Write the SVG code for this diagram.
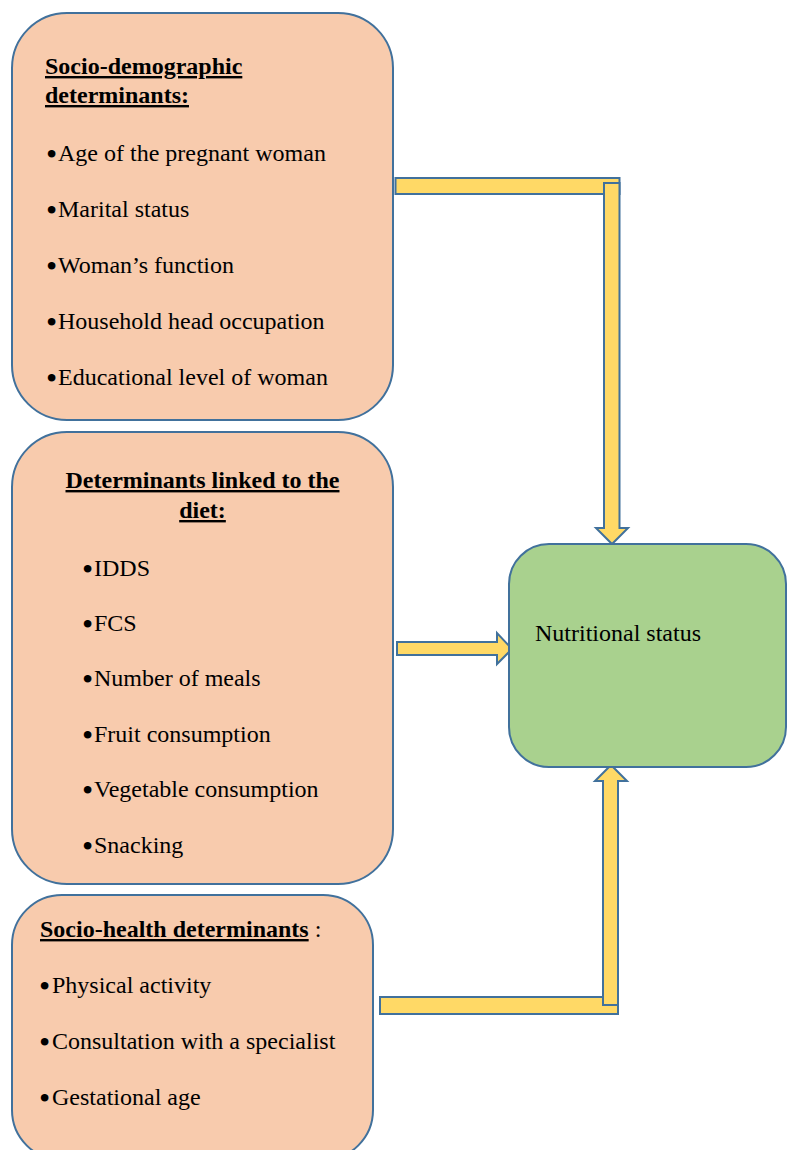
<svg xmlns="http://www.w3.org/2000/svg" width="787" height="1150" viewBox="0 0 787 1150">
  <style>
    .box { fill: #F8CBAD; stroke: #41719C; stroke-width: 2; }
    .goal { fill: #A9D18E; stroke: #41719C; stroke-width: 2; }
    .arr { fill: #FFD966; stroke: #41719C; stroke-width: 2; stroke-linejoin: miter; }
    text { font-family: "Liberation Serif", "Times New Roman", serif; font-size: 24px; fill: #000; }
    .h { font-weight: bold; text-decoration: underline; }
    .b { font-size: 32px; }
  </style>
  <rect width="787" height="1150" fill="#fff"/>

  <g id="connectors">
    <rect class="arr" x="395.5" y="178" width="224" height="16"/>
    <polygon class="arr" points="604,183 619.5,183 619.5,528 628,528 612,544 596,528 604,528"/>
    <polygon class="arr" points="397,642 497,642 497,633 512,649 497,664 497,655 397,655"/>
    <rect class="arr" x="380" y="997" width="238" height="17"/>
    <polygon class="arr" points="603,1005 618,1005 618,781 627,781 611,765 595,781 603,781"/>
  </g>

  <g id="socio-demographic">
    <rect class="box" x="12" y="13" width="381" height="407" rx="55" ry="55"/>
    <text class="h" x="45" y="74">Socio-demographic</text>
    <text class="h" x="45" y="103">determinants:</text>
    <text x="46" y="165"><tspan class="b">•</tspan><tspan x="58" y="161">Age of the pregnant woman</tspan></text>
    <text x="46" y="221"><tspan class="b">•</tspan><tspan x="58" y="217">Marital status</tspan></text>
    <text x="46" y="277"><tspan class="b">•</tspan><tspan x="58" y="273">Woman’s function</tspan></text>
    <text x="46" y="333"><tspan class="b">•</tspan><tspan x="58" y="329">Household head occupation</tspan></text>
    <text x="46" y="389"><tspan class="b">•</tspan><tspan x="58" y="385">Educational level of woman</tspan></text>
  </g>

  <g id="diet">
    <rect class="box" x="12" y="432" width="381" height="452" rx="55" ry="55"/>
    <text class="h" x="202.5" y="488" text-anchor="middle">Determinants linked to the</text>
    <text class="h" x="202.5" y="518" text-anchor="middle">diet:</text>
    <text x="82" y="580"><tspan class="b">•</tspan><tspan x="94" y="576">IDDS</tspan></text>
    <text x="82" y="635"><tspan class="b">•</tspan><tspan x="94" y="631">FCS</tspan></text>
    <text x="82" y="690"><tspan class="b">•</tspan><tspan x="94" y="686">Number of meals</tspan></text>
    <text x="82" y="746"><tspan class="b">•</tspan><tspan x="94" y="742">Fruit consumption</tspan></text>
    <text x="82" y="801"><tspan class="b">•</tspan><tspan x="94" y="797">Vegetable consumption</tspan></text>
    <text x="82" y="857"><tspan class="b">•</tspan><tspan x="94" y="853">Snacking</tspan></text>
  </g>

  <g id="socio-health">
    <rect class="box" x="12" y="895" width="361" height="265" rx="50" ry="50"/>
    <text x="40" y="937"><tspan class="h">Socio-health determinants</tspan> :</text>
    <text x="39" y="997"><tspan class="b">•</tspan><tspan x="52" y="993">Physical activity</tspan></text>
    <text x="39" y="1053"><tspan class="b">•</tspan><tspan x="52" y="1049">Consultation with a specialist</tspan></text>
    <text x="39" y="1109"><tspan class="b">•</tspan><tspan x="52" y="1105">Gestational age</tspan></text>
  </g>

  <g id="nutritional-status">
    <rect class="goal" x="509" y="544" width="277" height="223" rx="40" ry="40"/>
    <text x="535" y="641">Nutritional status</text>
  </g>
</svg>
